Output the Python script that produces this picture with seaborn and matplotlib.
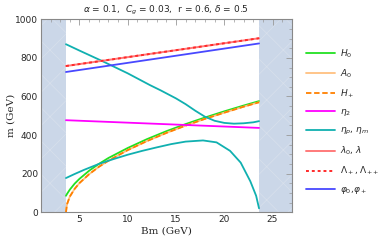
import matplotlib
matplotlib.use("Agg")
import matplotlib.pyplot as plt
import seaborn as sns
from matplotlib.ticker import MultipleLocator

# data (Bm in GeV, masses in GeV)
bm_sqrt = [3.6, 3.7, 4.0, 4.5, 5, 6, 7, 8, 10, 12, 14, 16, 18, 20, 22, 23.6]
m_H0 = [85, 94, 117, 148, 173, 215, 250, 281, 333, 379, 420, 457, 491, 523, 553, 576]
m_A0 = [0, 40, 81, 121, 151, 197, 235, 267, 322, 369, 411, 449, 484, 516, 547, 570]
m_Hp = [0, 40, 81, 121, 151, 197, 235, 267, 322, 369, 411, 449, 484, 516, 547, 570]

bm_lin = [3.6, 23.6]
m_eta2 = [477, 437]
m_lam = [758, 902]
m_Lam = [758, 902]
m_phi = [727, 875]

bm_up = [3.6, 5, 7.3, 10, 12.3, 13.4, 15, 16, 17, 18, 19, 20, 21, 22, 23, 23.6]
m_eta_up = [871, 838, 785, 720, 659, 632, 590, 560, 526, 495, 474, 463, 459, 461, 466, 472]

bm_low = [3.6, 4.5, 5.5, 7, 8.5, 10, 11.5, 13, 14.5, 16, 17.8, 19.2, 20.6, 21.7, 22.7, 23.3, 23.6]
m_eta_low = [177, 198, 220, 250, 275, 298, 318, 336, 353, 366, 372, 362, 318, 257, 160, 85, 20]

sns.set_theme(style="white")
plt.rcParams['font.family'] = ['DejaVu Sans']
plt.rcParams['hatch.linewidth'] = 0.5

fig = plt.figure(figsize=(3.82, 2.45), dpi=100)
ax = fig.add_axes([0.107, 0.134, 0.657, 0.787])

# excluded regions
for lo, hi in [(1, 3.6), (23.6, 27)]:
    ax.axvspan(lo, hi, facecolor='#cbd7e8', edgecolor='#d8e0ec', hatch='x', linewidth=0, zorder=0)

sns.lineplot(x=bm_sqrt, y=m_H0, ax=ax, color='#22e022', lw=1.3, label='$H_0$')
sns.lineplot(x=bm_sqrt, y=m_A0, ax=ax, color='#ffc080', lw=1.3, label='$A_0$')
sns.lineplot(x=bm_sqrt, y=m_Hp, ax=ax, color='#ff8000', lw=1.3, ls=(0, (3, 1.5)), label='$H_+$')
sns.lineplot(x=bm_lin, y=m_eta2, ax=ax, color='#ff00ff', lw=1.3, label=r'$\eta_2$')
sns.lineplot(x=bm_up, y=m_eta_up, ax=ax, color='#10b0b0', lw=1.3, label=r'$\eta_p$, $\eta_m$', sort=False)
sns.lineplot(x=bm_low, y=m_eta_low, ax=ax, color='#10b0b0', lw=1.3, sort=False)
sns.lineplot(x=bm_lin, y=m_lam, ax=ax, color='#ff7a7a', lw=1.4, label=r'$\lambda_0$, $\lambda$')
sns.lineplot(x=bm_lin, y=m_Lam, ax=ax, color='#ff2a2a', lw=1.4, ls=(0, (1.5, 1.5)), label=r'$\Lambda_+$, $\Lambda_{++}$')
sns.lineplot(x=bm_lin, y=m_phi, ax=ax, color='#4848ff', lw=1.3, label=r'$\varphi_0$,$\varphi_+$')

ax.set_xlim(1, 27)
ax.set_ylim(0, 1000)
ax.xaxis.set_major_locator(MultipleLocator(5))
ax.xaxis.set_minor_locator(MultipleLocator(1))
ax.yaxis.set_major_locator(MultipleLocator(200))
ax.yaxis.set_minor_locator(MultipleLocator(50))
ax.tick_params(which='both', direction='in', top=True, right=True, color='#999999',
               labelsize=6.5, pad=2)
ax.tick_params(which='major', length=4, width=0.6)
ax.tick_params(which='minor', length=2, width=0.5)
for s in ax.spines.values():
    s.set_color('#888888')
    s.set_linewidth(0.8)

ax.set_xlabel('Bm (GeV)', family='DejaVu Serif', fontsize=7.5, labelpad=2)
ax.set_ylabel('m (GeV)', family='DejaVu Serif', fontsize=7.5)
ax.yaxis.set_label_coords(-0.1, 0.5)
ax.set_title(r'$\alpha$ = 0.1,  $C_g$ = 0.03,  r = 0.6, $\delta$ = 0.5', fontsize=6.5, pad=5)

handles, labels = ax.get_legend_handles_labels()
ax.get_legend().remove()
fig.legend(handles, labels, loc='upper left', bbox_to_anchor=(0.78, 0.84), frameon=False,
           fontsize=6.5, handlelength=3.2, labelspacing=0.83, handletextpad=0.6)

fig.savefig('out.png', dpi=100)
